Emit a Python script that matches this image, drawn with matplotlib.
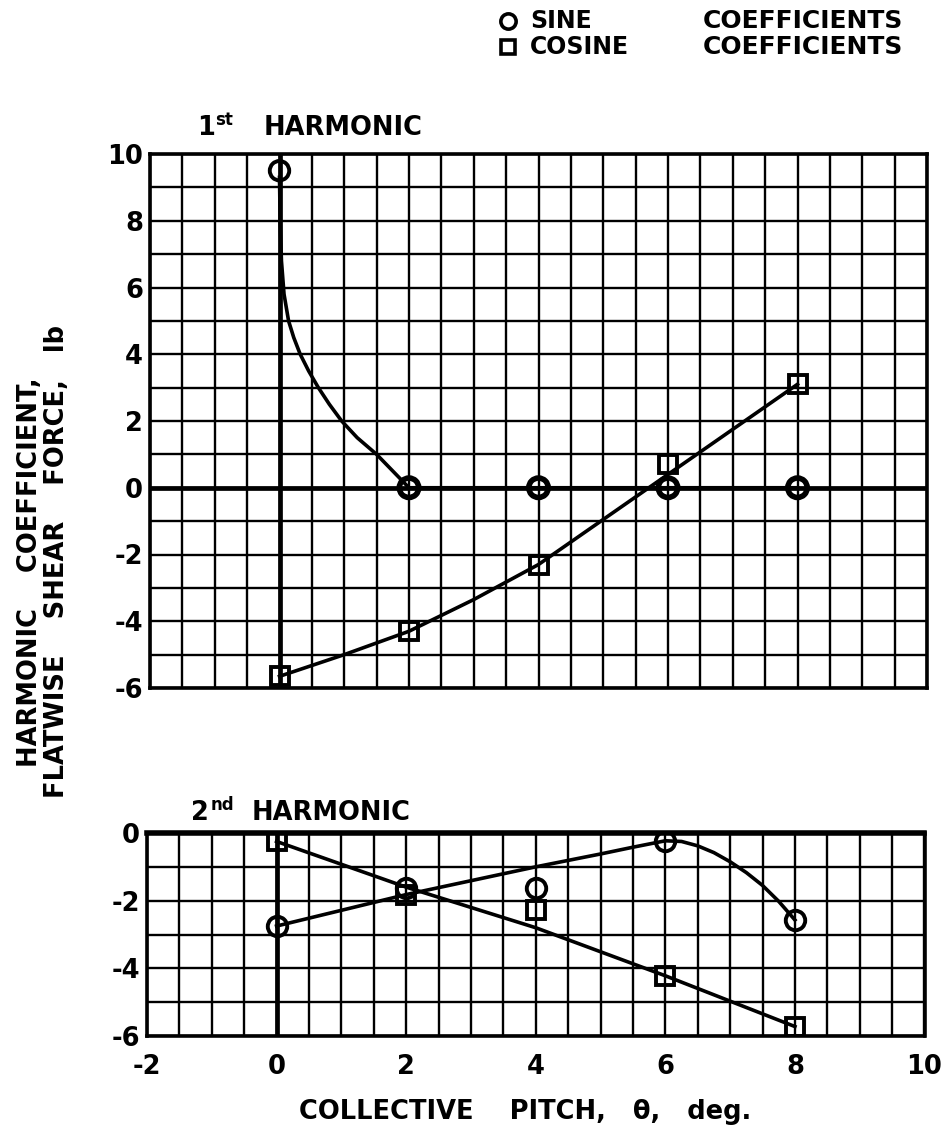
import matplotlib
matplotlib.use("Agg")
import matplotlib.pyplot as plt
from matplotlib.lines import Line2D

plt.rcParams['font.family'] = ['DejaVu Sans']
plt.rcParams['font.weight'] = 'bold'

# Collective pitch stations (deg)
pitch = [0, 2, 4, 6, 8]

# 1st harmonic coefficients (lb)
h1_sine = [9.5, 0.0, 0.0, 0.0, 0.0]
h1_cosine = [-5.65, -4.3, -2.3, 0.7, 3.1]

# 2nd harmonic coefficients (lb)
h2_sine = [-2.75, -1.62, -1.63, -0.23, -2.57]
h2_cosine = [-0.25, -1.82, -2.27, -4.24, -5.72]

# Faired curves through the test points
h1_sine_fair_x = [0.0, 0.01, 0.03, 0.07, 0.14, 0.22, 0.32, 0.45, 0.6, 0.77,
                  0.96, 1.2, 1.5, 1.75, 2.0, 4.0, 6.0, 8.0]
h1_sine_fair_y = [9.3, 8.0, 6.8, 5.8, 5.0, 4.5, 4.0, 3.5, 3.0, 2.5,
                  2.0, 1.5, 1.0, 0.5, 0.0, 0.0, 0.0, 0.0]
h1_cos_fair_x = [0, 1, 2, 3, 4, 5, 6, 7, 8]
h1_cos_fair_y = [-5.65, -5.0, -4.3, -3.35, -2.3, -0.95, 0.4, 1.75, 3.1]
h2_sine_fair_x = [0, 2, 4, 5, 5.5, 6.0, 6.25, 6.5, 6.75, 7.0, 7.25, 7.5, 7.75, 8.0]
h2_sine_fair_y = [-2.75, -1.82, -1.0, -0.62, -0.42, -0.23, -0.25, -0.38, -0.58,
                  -0.85, -1.17, -1.55, -2.02, -2.57]
h2_cos_fair_x = [0, 2, 4, 6, 8]
h2_cos_fair_y = [-0.25, -1.6, -2.8, -4.22, -5.72]

top_yticks = [10, 8, 6, 4, 2, 0, -2, -4, -6]
bot_yticks = [0, -2, -4, -6]
xticks = [-2, 0, 2, 4, 6, 8, 10]

W, H = 948, 1138
fig = plt.figure(figsize=(W / 100, H / 100), dpi=100)


def fx(px):
    return px / W


def fy(py):
    return 1 - py / H


ax1 = fig.add_axes([fx(150), fy(688), 777 / W, 534 / H])
ax2 = fig.add_axes([fx(147), fy(1036), 777.5 / W, 203 / H])

GRID_LW = 1.7
HEAVY_LW = 2.6
CURVE_LW = 2.6
FS = 18.5


def style(ax, ylim, yticks, show_x):
    ax.set_xlim(-2, 10)
    ax.set_ylim(*ylim)
    ax.set_xticks([x * 0.5 for x in range(-4, 21)], minor=True)
    ax.set_yticks(list(range(ylim[0], ylim[1] + 1)), minor=True)
    ax.set_yticks(yticks)
    ax.set_yticklabels([str(v) for v in yticks], fontsize=FS, fontweight='bold')
    ax.set_xticks(xticks)
    if show_x:
        ax.set_xticklabels([str(v) for v in xticks], fontsize=FS, fontweight='bold')
    else:
        ax.set_xticklabels([])
    ax.tick_params(which='both', length=0)
    ax.tick_params(axis='y', pad=5)
    ax.tick_params(axis='x', pad=13)
    ax.grid(which='both', color='black', lw=GRID_LW)
    ax.set_axisbelow(True)
    for sp in ax.spines.values():
        sp.set_linewidth(HEAVY_LW)
    ax.axvline(0, color='black', lw=HEAVY_LW + 0.8, zorder=1.5)


style(ax1, (-6, 10), top_yticks, False)
style(ax2, (-6, 0), bot_yticks, True)
ax1.axhline(0, color='black', lw=HEAVY_LW + 0.8, zorder=1.5)
ax2.spines['top'].set_linewidth(HEAVY_LW + 1.4)

circ = dict(marker='o', ms=14, mfc='none', mec='black', mew=2.8, ls='none', zorder=4)
sq = dict(marker='s', ms=13, mfc='none', mec='black', mew=2.8, ls='none', zorder=4)

ax1.plot(h1_sine_fair_x, h1_sine_fair_y, color='black', lw=CURVE_LW, zorder=3,
         solid_joinstyle='round')
ax1.plot(h1_cos_fair_x, h1_cos_fair_y, color='black', lw=CURVE_LW, zorder=3,
         solid_joinstyle='round')
# heavier rings where the sine points sit on the zero line
h1_sine_edges = [2.8 if v != 0 else 4.0 for v in h1_sine]
ax1.scatter(pitch, h1_sine, s=14 ** 2, marker='o', facecolors='none',
            edgecolors='black', linewidths=h1_sine_edges, zorder=4)
ax1.plot(pitch, h1_cosine, **sq)

ax2.plot(h2_sine_fair_x, h2_sine_fair_y, color='black', lw=CURVE_LW, zorder=3,
         solid_joinstyle='round')
ax2.plot(h2_cos_fair_x, h2_cos_fair_y, color='black', lw=CURVE_LW, zorder=3,
         solid_joinstyle='round')
ax2.plot(pitch, h2_sine, **circ)
ax2.plot(pitch, h2_cosine, **sq)

# Panel titles
fig.text(fx(197), fy(128), '1', fontsize=FS, fontweight='bold', va='center', ha='left')
fig.text(fx(215), fy(120), 'st', fontsize=12, fontweight='bold', va='center', ha='left')
fig.text(fx(264), fy(128), 'HARMONIC', fontsize=FS, fontweight='bold', va='center', ha='left')
fig.text(fx(191), fy(813), '2', fontsize=FS, fontweight='bold', va='center', ha='left')
fig.text(fx(211), fy(805), 'nd', fontsize=12, fontweight='bold', va='center', ha='left')
fig.text(fx(252), fy(813), 'HARMONIC', fontsize=FS, fontweight='bold', va='center', ha='left')

# Axis titles
fig.text(fx(30), fy(572), 'HARMONIC    COEFFICIENT,', fontsize=FS, fontweight='bold',
         rotation=90, va='center', ha='center')
fig.text(fx(57), fy(562), 'FLATWISE    SHEAR    FORCE,   lb', fontsize=FS, fontweight='bold',
         rotation=90, va='center', ha='center')
fig.text(fx(525), fy(1112), 'COLLECTIVE    PITCH,   θ,   deg.', fontsize=FS, fontweight='bold',
         va='center', ha='center')

# Key
fig.add_artist(Line2D([fx(508)], [fy(21)], marker='o', ms=11, mfc='none', mec='black',
                      mew=2.6, transform=fig.transFigure))
fig.add_artist(Line2D([fx(508)], [fy(47)], marker='s', ms=10, mfc='none', mec='black',
                      mew=2.6, transform=fig.transFigure))
fig.text(fx(530), fy(21), 'SINE', fontsize=17, fontweight='bold', va='center', ha='left')
fig.text(fx(530), fy(47), 'COSINE', fontsize=17, fontweight='bold', va='center', ha='left')
fig.text(fx(803), fy(21), 'COEFFICIENTS', fontsize=18, fontweight='bold', va='center', ha='center')
fig.text(fx(803), fy(47), 'COEFFICIENTS', fontsize=18, fontweight='bold', va='center', ha='center')

fig.savefig('out.png', dpi=100, facecolor='white')
